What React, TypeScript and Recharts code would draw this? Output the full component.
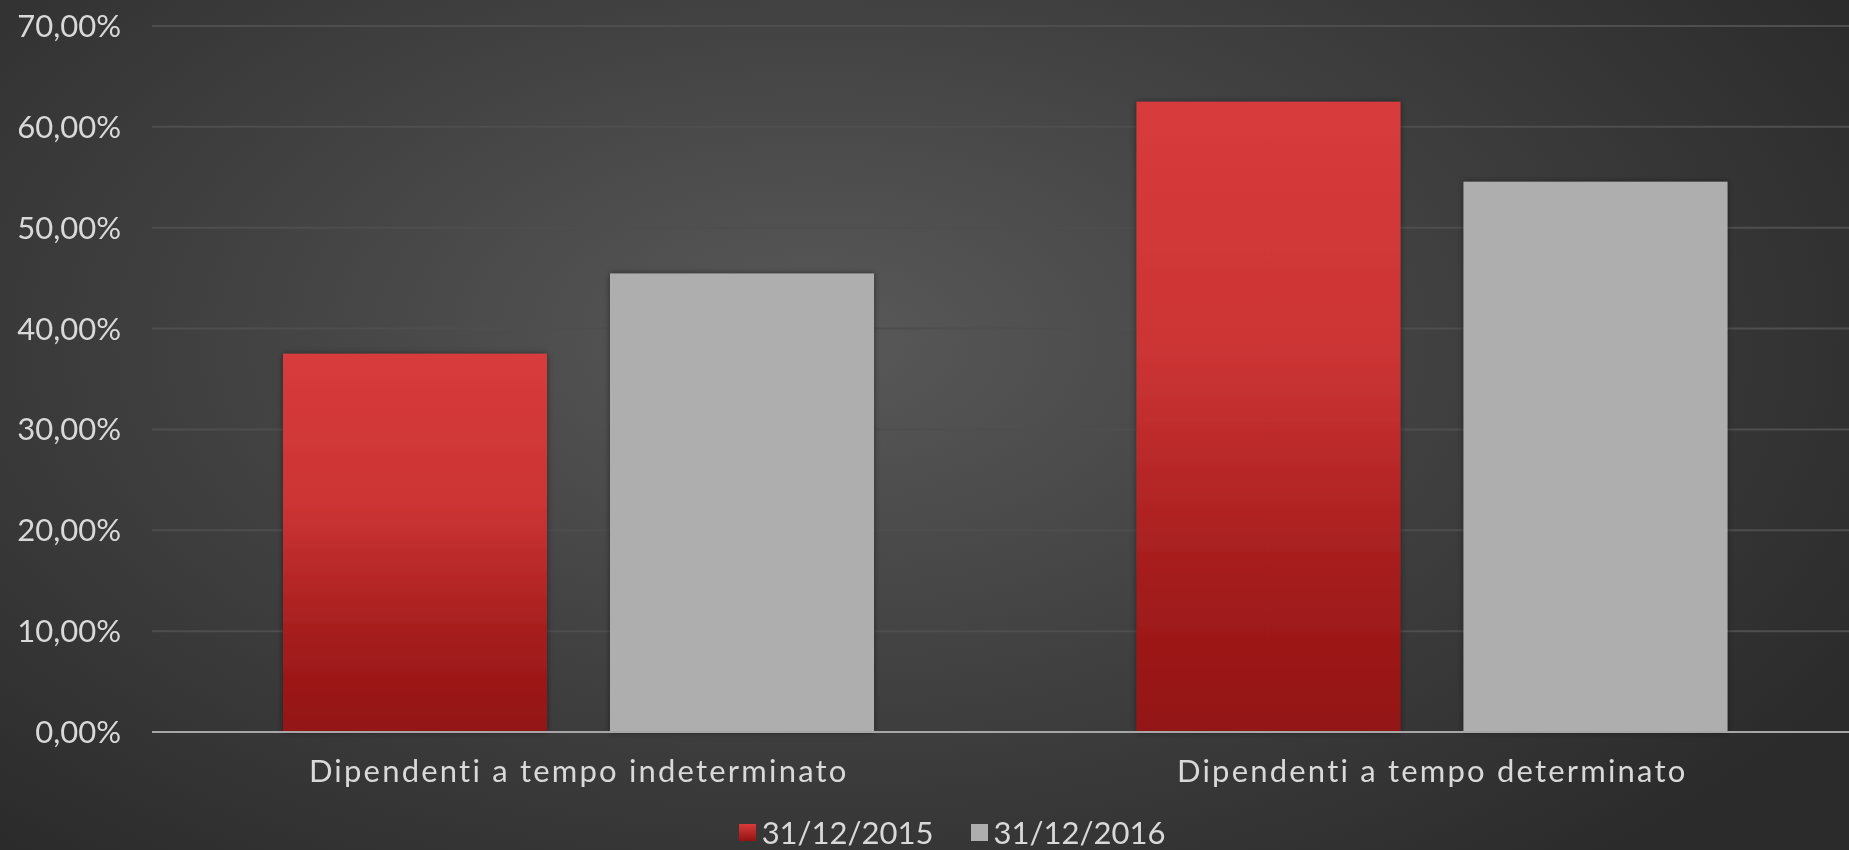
import { BarChart, Bar, XAxis, YAxis, CartesianGrid, Legend } from "recharts";

const categories = ["Dipendenti a tempo indeterminato", "Dipendenti a tempo determinato"];
const values2015 = [37.5, 62.5];
const values2016 = [45.45, 54.55];
const yTicks = [0, 10, 20, 30, 40, 50, 60, 70];

const data = categories.map((name, i) => ({
  name,
  "31/12/2015": values2015[i],
  "31/12/2016": values2016[i],
}));

const textColor = "#d9d9d9";
const font = "Lato, 'Open Sans', sans-serif";

const legendSwatch: Record<string, string> = {
  "31/12/2015": "linear-gradient(#d83b3b, #931313)",
  "31/12/2016": "#aeaeae",
};

function renderLegend(props: any) {
  const { payload } = props;
  return (
    <div style={{ display: "flex", justifyContent: "center", paddingLeft: 82, fontFamily: font, fontSize: 31, color: textColor, lineHeight: "36px" }}>
      {payload.map((p: any) => (
        <div key={p.value} style={{ display: "flex", alignItems: "center", marginRight: 37 }}>
          <span style={{ display: "inline-block", width: 17, height: 17, background: legendSwatch[p.value], marginRight: 6 }} />
          <span>{p.value}</span>
        </div>
      ))}
    </div>
  );
}

export default function App() {
  return (
    <div
      style={{
        position: "fixed",
        left: 0,
        top: 0,
        width: 1849,
        height: 850,
        overflow: "hidden",
        background: "radial-gradient(ellipse 65% 80% at 44% 40%, #595959 0%, #414141 50%, #2b2b2b 100%)",
      }}
    >
      <BarChart
        width={1859}
        height={850}
        data={data}
        margin={{ top: 26, right: 0, left: 0, bottom: 0 }}
        barGap={63}
        barSize={264}
      >
        <defs>
          <linearGradient id="red2015" x1="0" y1="0" x2="0" y2="1">
            <stop offset="0%" stopColor="#d83b3b" />
            <stop offset="40%" stopColor="#cc3434" />
            <stop offset="75%" stopColor="#a51d1d" />
            <stop offset="100%" stopColor="#931313" />
          </linearGradient>
          <filter id="barShadow" x="-10%" y="-10%" width="120%" height="120%">
            <feDropShadow dx="0" dy="0" stdDeviation="3" floodColor="#000" floodOpacity="0.45" />
          </filter>
        </defs>
        <CartesianGrid stroke="#4e4e4e" strokeWidth={2} vertical={false} />
        <XAxis
          dataKey="name"
          height={82}
          tickSize={0}
          tickMargin={28}
          axisLine={{ stroke: "#a6a6a6", strokeWidth: 2 }}
          tick={{ fill: textColor, fontSize: 31, fontFamily: font, letterSpacing: 2.2 }}
        />
        <YAxis
          width={152}
          domain={[0, 70]}
          ticks={yTicks}
          tickSize={0}
          tickMargin={31}
          axisLine={false}
          tickLine={false}
          tickFormatter={(v: number) => v.toFixed(2).replace(".", ",") + "%"}
          tick={{ fill: textColor, fontSize: 31, fontFamily: font }}
        />
        <Legend verticalAlign="bottom" content={renderLegend} />
        <Bar dataKey="31/12/2015" fill="url(#red2015)" filter="url(#barShadow)" isAnimationActive={false} />
        <Bar dataKey="31/12/2016" fill="#aeaeae" filter="url(#barShadow)" isAnimationActive={false} />
      </BarChart>
    </div>
  );
}
